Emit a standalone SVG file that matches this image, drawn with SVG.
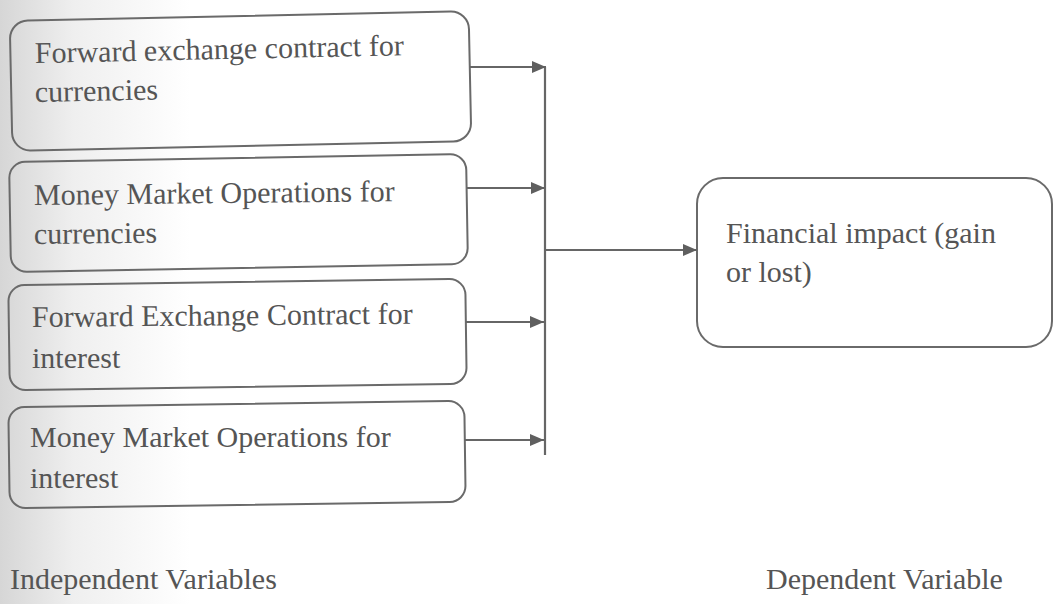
<svg xmlns="http://www.w3.org/2000/svg" width="1056" height="604" viewBox="0 0 1056 604">
  <defs>
    <linearGradient id="bg" x1="0" y1="0" x2="1" y2="0">
      <stop offset="0" stop-color="#d6d6d6"/>
      <stop offset="0.07" stop-color="#efefef"/>
      <stop offset="0.18" stop-color="#ffffff"/>
    </linearGradient>
    <marker id="arr" viewBox="0 0 14 12" refX="14" refY="6" markerWidth="14" markerHeight="12" markerUnits="userSpaceOnUse" orient="auto">
      <path d="M0,0 L14,6 L0,12 z" fill="#5f5f5f"/>
    </marker>
    <style>
      .box { fill: none; stroke: #6a6a6a; stroke-width: 2; }
      .t { font-family: "Liberation Serif", "Times New Roman", serif; font-size: 30px; fill: #555555; }
      .c { stroke: #666666; stroke-width: 2.2; fill: none; }
    </style>
  </defs>
  <rect x="0" y="0" width="1056" height="604" fill="url(#bg)"/>

  <g id="node1">
    <rect class="box" x="11" y="16" width="459" height="130" rx="18" transform="rotate(-1.2 240 80)"/>
    <text class="t" x="35" y="63" transform="rotate(-1.2 35 63)">Forward exchange contract for</text>
    <text class="t" x="35" y="102" transform="rotate(-1.2 35 102)">currencies</text>
  </g>
  <g id="node2">
    <rect class="box" x="10" y="158" width="457" height="110" rx="16" transform="rotate(-1 240 213)"/>
    <text class="t" x="34" y="205" transform="rotate(-0.6 34 205)">Money Market Operations for</text>
    <text class="t" x="34" y="244" transform="rotate(-0.6 34 244)">currencies</text>
  </g>
  <g id="node3">
    <rect class="box" x="9" y="282" width="457" height="105" rx="16" transform="rotate(-0.8 240 335)"/>
    <text class="t" x="32" y="327" transform="rotate(-0.5 32 327)">Forward Exchange Contract for</text>
    <text class="t" x="32" y="368">interest</text>
  </g>
  <g id="node4">
    <rect class="box" x="9" y="404" width="456" height="101" rx="16" transform="rotate(-0.8 240 455)"/>
    <text class="t" x="30" y="447">Money Market Operations for</text>
    <text class="t" x="30" y="488">interest</text>
  </g>
  <g id="node5">
    <rect class="box" x="697" y="178" width="355" height="169" rx="26"/>
    <text class="t" x="726" y="243">Financial impact (gain</text>
    <text class="t" x="726" y="282">or lost)</text>
  </g>
  <g id="label-independent">
    <text class="t" x="10" y="589">Independent Variables</text>
  </g>
  <g id="label-dependent">
    <text class="t" x="766" y="589">Dependent Variable</text>
  </g>

  <g id="connectors">
    <line class="c" x1="545" y1="67" x2="545" y2="455"/>
    <line class="c" x1="470" y1="67" x2="546" y2="67" marker-end="url(#arr)"/>
    <line class="c" x1="467" y1="188" x2="545" y2="188" marker-end="url(#arr)"/>
    <line class="c" x1="466" y1="322" x2="544" y2="322" marker-end="url(#arr)"/>
    <line class="c" x1="465" y1="440" x2="544" y2="440" marker-end="url(#arr)"/>
    <line class="c" x1="545" y1="250" x2="697" y2="250" marker-end="url(#arr)"/>
  </g>
</svg>
